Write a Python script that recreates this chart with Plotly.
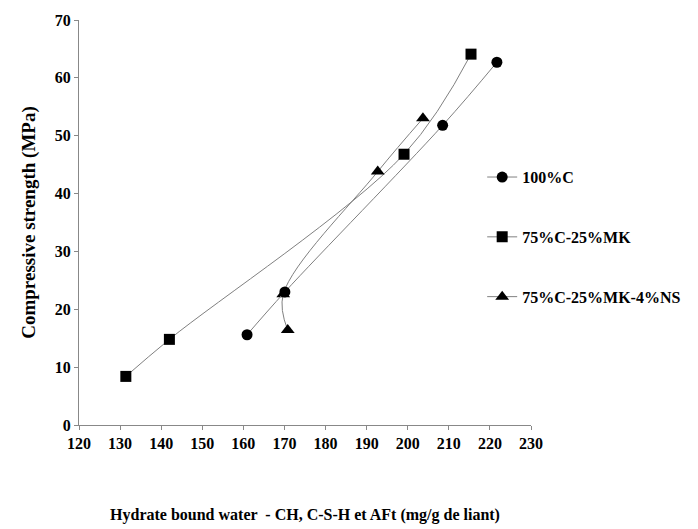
import plotly.graph_objects as go

c100_x = [160.9, 170.1, 208.5, 221.7]
c100_y = [15.6, 23.0, 51.8, 62.7]
mk_x = [131.4, 142.0, 199.1, 215.4]
mk_y = [8.4, 14.8, 46.8, 64.1]
ns_x = [170.8, 169.7, 192.7, 203.7]
ns_y = [16.4, 22.6, 43.8, 53.0]

names = ["100%C", "75%C-25%MK", "75%C-25%MK-4%NS"]
symbols = ["circle", "square", "triangle-up"]
sizes = [11, 11, 12]

x_ticks = list(range(120, 231, 10))
y_ticks = list(range(0, 71, 10))

font_fam = "Liberation Serif"

fig = go.Figure()
series = [(mk_x, mk_y, 1), (ns_x, ns_y, 2), (c100_x, c100_y, 0)]
for xs, ys, i in series:
    fig.add_trace(go.Scatter(
        x=xs, y=ys, name=names[i], mode="lines+markers",
        line=dict(color="#808080", width=1, shape="spline", smoothing=1.0),
        marker=dict(symbol=symbols[i], size=sizes[i], color="black"),
        legendgroup=str(i), legendrank=i + 1,
    ))

fig.update_layout(
    width=698, height=529,
    margin=dict(l=71, r=175, t=12, b=112),
    plot_bgcolor="white", paper_bgcolor="white",
    font=dict(family=font_fam, size=14, color="black"),
    showlegend=True,
    legend=dict(x=0.892, y=0.654, xanchor="left", yanchor="top",
                traceorder="grouped", tracegroupgap=36,
                font=dict(family=font_fam, size=16, color="black", weight="bold"),
                bgcolor="rgba(0,0,0,0)"),
    xaxis=dict(range=[120, 230], tickvals=x_ticks, showgrid=False, zeroline=False,
               showline=True, linecolor="#888888", linewidth=1, automargin=False,
               ticks="outside", ticklen=4, tickcolor="#888888",
               tickfont=dict(family=font_fam, size=16, weight="bold"),
               title=dict(text="Hydrate bound water  - CH, C-S-H et AFt (mg/g de liant)",
                          font=dict(family=font_fam, size=16, weight="bold"), standoff=57)),
    yaxis=dict(range=[0, 70], tickvals=y_ticks, showgrid=False, zeroline=False,
               showline=True, linecolor="#888888", linewidth=1, automargin=False,
               ticks="outside", ticklen=4, tickcolor="#888888",
               tickfont=dict(family=font_fam, size=16, weight="bold"),
               title=dict(text="Compressive strength (MPa)",
                          font=dict(family=font_fam, size=19, weight="bold"), standoff=14)),
)

fig.write_html("out.html")
